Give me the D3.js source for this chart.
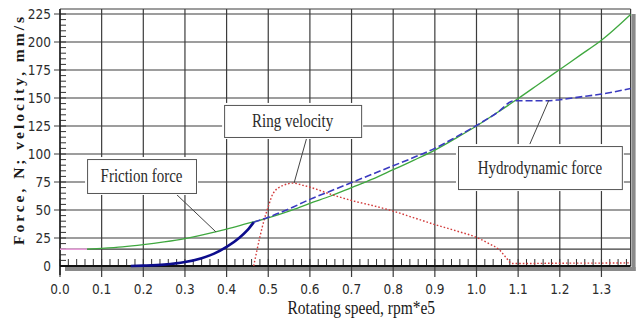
<!DOCTYPE html>
<html>
<head>
<meta charset="utf-8">
<script src="https://cdn.jsdelivr.net/npm/d3@7"></script>
<style>
  body { margin: 0; background: #fff; }
  svg { display: block; }
</style>
</head>
<body>
<script>
// ---- data ----
var xTicks = [0.0, 0.1, 0.2, 0.3, 0.4, 0.5, 0.6, 0.7, 0.8, 0.9, 1.0, 1.1, 1.2, 1.3];
var yTicks = [0, 25, 50, 75, 100, 125, 150, 175, 200, 225];
var yExtraGrid = [15];

// friction force, N
var frictionSpeed = [0.065, 0.1, 0.15, 0.2, 0.25, 0.3, 0.35, 0.4, 0.45, 0.5, 0.55, 0.6, 0.65, 0.7, 0.75, 0.8, 0.85, 0.9, 0.95, 1.0, 1.05, 1.1, 1.15, 1.2, 1.25, 1.3, 1.37];
var frictionForce = [15, 15.7, 17, 19, 21.5, 24.5, 28.5, 33, 38, 43, 49, 56, 62.5, 70, 77.5, 86, 94.5, 103.5, 114, 125, 137, 149.5, 162.5, 175.5, 188.5, 201.5, 224.5];
// static part drawn in pink
var staticSpeed = [0.0, 0.065];
var staticForce = [15, 15];

// hydrodynamic force, N (solid part, then dashed part)
var hydroSolidSpeed = [0.17, 0.2, 0.25, 0.3, 0.34, 0.37, 0.4, 0.43, 0.45, 0.465];
var hydroSolidForce = [0, 0.3, 1.2, 3.5, 7, 11, 17, 25, 32, 39];
var hydroDashSpeed = [0.465, 0.5, 0.55, 0.6, 0.65, 0.7, 0.75, 0.8, 0.85, 0.9, 0.95, 1.0, 1.05, 1.09, 1.17, 1.2, 1.25, 1.3, 1.37];
var hydroDashForce = [39, 43.5, 51, 59.5, 67, 74.5, 82, 89.5, 97, 105, 115, 125.5, 137, 147.5, 147.5, 148.5, 151, 153.5, 158.5];

// ring velocity, mm/s
var ringSpeed = [0.465, 0.48, 0.49, 0.5, 0.512, 0.536, 0.56, 0.584, 0.616, 0.648, 0.7, 0.75, 0.8, 0.85, 0.9, 0.95, 1.0, 1.03, 1.056, 1.07, 1.085, 1.1, 1.2, 1.3, 1.37];
var ringVelocity = [0, 26, 41, 53, 65, 72, 74, 72, 68.5, 64.3, 58.5, 54, 49, 43, 37, 31.5, 25.5, 20, 14, 8, 2.3, 2.2, 2.5, 2.6, 2.8];

// callouts: box corners and pointer in data units
var callouts = [
	{ text: 'Friction force', x0: 0.065, x1: 0.3265, y0: 95.5, y1: 65.2, from: [0.276, 65.2], to: [0.3745, 30.4] },
	{ text: 'Ring velocity', x0: 0.394, x1: 0.723, y0: 143.8, y1: 115.2, from: [0.593, 115.2], to: [0.562, 74.1] },
	{ text: 'Hydrodynamic force', x0: 0.9556, x1: 1.349, y0: 107.1, y1: 68.7, from: [1.126, 107.1], to: [1.174, 148.2] }
];

var width = 642, height = 322;
var plotLeft = 60, plotRight = 630.6, plotTop = 14, plotBottom = 266;

var svg = d3.select('body').append('svg')
	.attr('width', width)
	.attr('height', height);

var x = d3.scaleLinear().domain([0, 1.37]).range([plotLeft, plotRight]);
var y = d3.scaleLinear().domain([0, 225]).range([plotBottom, plotTop]);

var narrow = "'Liberation Sans Narrow', 'Arial Narrow', 'DejaVu Sans Condensed', sans-serif";
var serif = "'Liberation Serif', 'Times New Roman', serif";

// shadows on the right and bottom of the frame
svg.append('rect')
	.attr('x', plotRight + 1).attr('y', plotTop)
	.attr('width', 4).attr('height', plotBottom - plotTop + 5)
	.attr('fill', '#8a8a8a');
svg.append('rect')
	.attr('x', plotLeft + 5).attr('y', plotBottom + 1)
	.attr('width', plotRight - plotLeft).attr('height', 4)
	.attr('fill', '#8a8a8a');

// horizontal grid
var grid = svg.append('g').attr('stroke', '#3c3c3c').attr('stroke-width', 1.2);
yTicks.concat(yExtraGrid).forEach(function(v) {
	if (v === 0) return;
	grid.append('line')
		.attr('x1', yExtraGrid.indexOf(v) >= 0 ? plotLeft : plotLeft - 6)
		.attr('x2', plotRight)
		.attr('y1', y(v)).attr('y2', y(v));
});
// vertical grid, running below the axis as ticks
xTicks.forEach(function(v) {
	grid.append('line')
		.attr('x1', x(v)).attr('x2', x(v))
		.attr('y1', plotTop - 5).attr('y2', plotBottom + 11);
});
// frame top and right
grid.append('line').attr('x1', plotLeft).attr('x2', plotRight).attr('y1', plotTop - 5).attr('y2', plotTop - 5);
grid.append('line').attr('x1', plotRight).attr('x2', plotRight).attr('y1', plotTop - 5).attr('y2', plotBottom);

// minor ticks
var minor = svg.append('g').attr('stroke', '#333').attr('stroke-width', 1);
d3.range(0, 225.1, 5).forEach(function(v) {
	minor.append('line').attr('x1', plotLeft).attr('x2', plotLeft + 6).attr('y1', y(v)).attr('y2', y(v));
});
d3.range(0, 1.37, 0.02).forEach(function(v) {
	minor.append('line').attr('x1', x(v)).attr('x2', x(v)).attr('y1', plotBottom - 7).attr('y2', plotBottom);
});

// axis lines
svg.append('line').attr('x1', plotLeft).attr('x2', plotLeft).attr('y1', plotTop - 5).attr('y2', plotBottom + 9)
	.attr('stroke', '#222').attr('stroke-width', 1.5);
svg.append('line').attr('x1', plotLeft).attr('x2', plotRight).attr('y1', plotBottom).attr('y2', plotBottom)
	.attr('stroke', '#111').attr('stroke-width', 2);

// tick labels
svg.append('g').selectAll('text').data(yTicks).join('text')
	.attr('transform', function(d) { return 'translate(' + (plotLeft - 9) + ',' + (y(d) + 4.5) + ') scale(1,1.1)'; })
	.attr('text-anchor', 'end')
	.attr('font-family', narrow).attr('font-size', 13.5)
	.attr('fill', '#2c2c2c')
	.text(function(d) { return d; });

svg.append('g').selectAll('text').data(xTicks).join('text')
	.attr('transform', function(d) { return 'translate(' + x(d) + ',' + (plotBottom + 28) + ') scale(1,1.1)'; })
	.attr('text-anchor', 'middle')
	.attr('font-family', narrow).attr('font-size', 13.5)
	.attr('fill', '#2c2c2c')
	.text(function(d) { return d.toFixed(1); });

// axis titles
svg.append('text')
	.attr('transform', 'translate(' + ((plotLeft + plotRight) / 2 + 16) + ',' + (plotBottom + 48) + ') scale(1,1.2)')
	.attr('text-anchor', 'middle')
	.attr('font-family', serif).attr('font-size', 15.5)
	.attr('fill', '#1a1a1a')
	.text('Rotating speed, rpm*e5');

svg.append('text')
	.attr('transform', 'translate(24,131) rotate(-90)')
	.attr('text-anchor', 'middle')
	.attr('font-family', serif).attr('font-size', 15.5).attr('font-weight', 'bold')
	.attr('textLength', 228).attr('lengthAdjust', 'spacing')
	.attr('fill', '#1a1a1a')
	.text('Force, N; velocity, mm/s');

// series
var line = d3.line()
	.x(function(d) { return x(d[0]); })
	.y(function(d) { return y(d[1]); })
	.curve(d3.curveMonotoneX);

function pairs(xs, ys) { return xs.map(function(v, i) { return [v, ys[i]]; }); }

svg.append('path').datum(pairs(staticSpeed, staticForce))
	.attr('d', line).attr('fill', 'none')
	.attr('stroke', '#f0a0e0').attr('stroke-width', 1.5);

svg.append('path').datum(pairs(frictionSpeed, frictionForce))
	.attr('d', line).attr('fill', 'none')
	.attr('stroke', '#3fa83f').attr('stroke-width', 1.3);

svg.append('path').datum(pairs(ringSpeed, ringVelocity))
	.attr('d', line).attr('fill', 'none')
	.attr('stroke', '#d23c3c').attr('stroke-width', 1.4)
	.attr('stroke-dasharray', '1.6,2');

svg.append('path').datum(pairs(hydroDashSpeed, hydroDashForce))
	.attr('d', line).attr('fill', 'none')
	.attr('stroke', '#3a3ac0').attr('stroke-width', 1.6)
	.attr('stroke-dasharray', '7,3');

svg.append('path').datum(pairs(hydroSolidSpeed, hydroSolidForce))
	.attr('d', line).attr('fill', 'none')
	.attr('stroke', '#0c0c8c').attr('stroke-width', 2.6);

// callouts
callouts.forEach(function(c) {
	var bx = x(c.x0), by = y(c.y0), bw = x(c.x1) - x(c.x0), bh = y(c.y1) - y(c.y0);
	svg.append('line')
		.attr('x1', x(c.from[0])).attr('y1', y(c.from[1]))
		.attr('x2', x(c.to[0])).attr('y2', y(c.to[1]))
		.attr('stroke', '#444').attr('stroke-width', 1);
	svg.append('rect')
		.attr('x', bx - 2).attr('y', by - 2).attr('width', bw + 4).attr('height', bh + 4)
		.attr('fill', '#fff');
	svg.append('rect')
		.attr('x', bx + 0.5).attr('y', by + 0.5).attr('width', bw).attr('height', bh)
		.attr('fill', '#fff').attr('stroke', '#555').attr('stroke-width', 1);
	svg.append('text')
		.attr('transform', 'translate(' + (bx + bw / 2) + ',' + (by + bh / 2 + 6) + ') scale(1,1.2)')
		.attr('text-anchor', 'middle')
		.attr('font-family', serif).attr('font-size', 15)
		.attr('fill', '#2a2a2a')
		.text(c.text);
});
</script>
</body>
</html>
